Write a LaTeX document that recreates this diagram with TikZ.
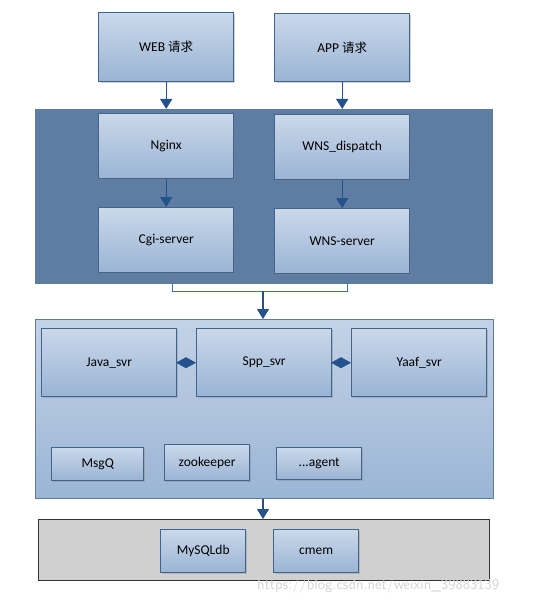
\documentclass[tikz,border=0pt]{standalone}
\usepackage{fontspec}
\setmainfont{Carlito}
\newfontfamily\cjk{Noto Sans CJK SC}
\usetikzlibrary{arrows.meta,shadows}
\definecolor{boxtop}{HTML}{CAD8EA}
\definecolor{boxbot}{HTML}{9AB4D4}
\definecolor{boxline}{HTML}{43638F}
\definecolor{darkpanel}{HTML}{5E7DA2}
\definecolor{arrowc}{HTML}{24528C}
\definecolor{midtop}{HTML}{C3D2E6}
\definecolor{midbot}{HTML}{9BB5D5}
\definecolor{graypanel}{HTML}{D0D0D0}
\tikzset{
  x=1pt,y=-1pt,
  svc/.style={draw=boxline,line width=1.4pt,top color=boxtop,bottom color=boxbot,
    drop shadow={shadow xshift=1.2pt,shadow yshift=-1.2pt,opacity=0.35},
    font=\fontsize{13.5}{16}\selectfont,text=black,inner sep=0pt,anchor=north west},
  flow/.style={draw=arrowc,line width=1.1pt,-{Triangle[length=10pt,width=12pt]}},
  dia/.style={draw=arrowc,line width=1pt,-{Diamond[length=20pt,width=11pt]}},
}
\begin{document}
\begin{tikzpicture}
\useasboundingbox[fill=white] (0,0) rectangle (553,604);
% panels
\node[fill=darkpanel,draw=darkpanel,minimum width=457pt,minimum height=174pt,inner sep=0pt,anchor=north west] (toppanel) at (35,109) {};
\node[draw=boxline!85,line width=1pt,top color=midtop,bottom color=midbot,minimum width=458pt,minimum height=179pt,inner sep=0pt,anchor=north west] (midpanel) at (35,319) {};
\node[draw=black!80,line width=1.3pt,fill=graypanel,minimum width=451pt,minimum height=61pt,inner sep=0pt,anchor=north west] (dbpanel) at (38,519) {};
% boxes
\node[svc,minimum width=135pt,minimum height=69pt] (web) at (98,12) {WEB {\cjk\fontsize{12.5}{15}\selectfont 请求}};
\node[svc,minimum width=135pt,minimum height=68pt] (app) at (274,13) {APP {\cjk\fontsize{12.5}{15}\selectfont 请求}};
\node[svc,minimum width=135pt,minimum height=65pt] (nginx) at (98,113) {Nginx};
\node[svc,minimum width=135pt,minimum height=65pt] (wnsd) at (274,114) {WNS\_dispatch};
\node[svc,minimum width=135pt,minimum height=65pt] (cgi) at (98,207) {Cgi-server};
\node[svc,minimum width=135pt,minimum height=65pt] (wnss) at (274,208) {WNS-server};
\node[svc,minimum width=135pt,minimum height=68pt] (java) at (41,328) {Java\_svr};
\node[svc,minimum width=135pt,minimum height=68pt] (spp) at (196,328) {Spp\_svr};
\node[svc,minimum width=135pt,minimum height=68pt] (yaaf) at (351,328) {Yaaf\_svr};
\node[svc,minimum width=92pt,minimum height=33pt] (msgq) at (51,447) {MsgQ};
\node[svc,minimum width=85pt,minimum height=36pt] (zk) at (164,444) {zookeeper};
\node[svc,minimum width=85pt,minimum height=32pt] (agent) at (276,447) {...agent};
\node[svc,minimum width=85pt,minimum height=43pt] (mysql) at (160,529) {MySQLdb};
\node[svc,minimum width=85pt,minimum height=43pt] (cmem) at (273,529) {cmem};
% connectors
\draw[flow] (web.south) -- (web.south |- toppanel.north);
\draw[flow] (app.south) -- (app.south |- toppanel.north);
\draw[flow] (nginx) -- (cgi);
\draw[flow] (wnsd) -- (wnss);
\coordinate (bl) at (172,283);
\coordinate (br) at (347,283);
\coordinate (bm) at (263,291);
\draw[draw=arrowc!85,line width=1pt] (bl) |- (br |- bm) -- (br);
\draw[flow] (bm) -- (bm |- midpanel.north);
\draw[flow] (bm |- midpanel.south) -- (bm |- dbpanel.north);
\draw[dia] (java.east) -- (spp.west);
\draw[dia] (spp.east) -- (yaaf.west);
% watermark
\node[text=black!16,font=\fontsize{15.5}{18}\selectfont\sffamily,anchor=west,inner sep=0pt] (wm) at (257,586) {https://blog.csdn.net/weixin\_39883139};
\end{tikzpicture}
\end{document}
